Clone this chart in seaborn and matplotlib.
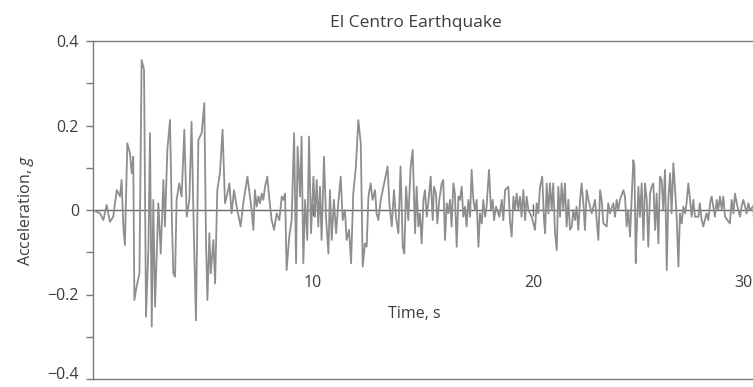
import numpy as np
import pandas as pd
import matplotlib
matplotlib.use("Agg")
import matplotlib.pyplot as plt
import seaborn as sns
from matplotlib.ticker import FixedLocator, FixedFormatter, NullLocator

# ---------------- data ----------------
title_text = "El Centro Earthquake"
x_label_text = "Time, s"
y_label_text = "Acceleration, $g$"

# 0 - 7 s (strong-motion phase)
time_a = [0.00, 0.32, 0.47, 0.62, 0.77, 0.92, 1.08, 1.23, 1.30, 1.38,
          1.45, 1.56, 1.68, 1.76, 1.83, 1.88, 1.98, 2.11, 2.21, 2.32,
          2.41, 2.52, 2.59, 2.67, 2.74, 2.82, 2.97, 3.08, 3.20, 3.27,
          3.38, 3.50, 3.58, 3.65, 3.73, 3.80, 3.92, 4.03, 4.15, 4.26,
          4.38, 4.48, 4.59, 4.68, 4.79, 4.94, 5.06, 5.14, 5.20, 5.29,
          5.35, 5.47, 5.55, 5.65, 5.77, 5.89, 6.00, 6.11, 6.20, 6.30,
          6.41, 6.53, 6.71, 6.83, 7.02]
accel_a = [0.000, -0.008, -0.024, 0.012, -0.028, -0.016, 0.047, 0.032, 0.071, -0.039,
           -0.083, 0.158, 0.134, 0.087, 0.126, -0.213, -0.182, -0.150, 0.355, 0.332,
           -0.253, -0.087, 0.182, -0.276, 0.024, -0.229, 0.016, -0.103, 0.071, -0.039,
           0.142, 0.213, -0.008, -0.150, -0.158, 0.024, 0.063, 0.032, 0.190, -0.016,
           0.024, 0.209, -0.071, -0.261, 0.166, 0.182, 0.253, -0.087, -0.213, -0.055,
           -0.150, -0.071, -0.174, 0.047, 0.087, 0.190, 0.016, 0.039, 0.063, -0.008,
           0.047, 0.008, -0.039, 0.016, 0.079]

# 7 - 14.5 s
time_b = [7.21, 7.29, 7.36, 7.44, 7.52, 7.59, 7.67, 7.74, 7.82, 7.92,
          8.02, 8.12, 8.23, 8.35, 8.47, 8.58, 8.65, 8.73, 8.80, 8.92,
          9.03, 9.14, 9.23, 9.30, 9.41, 9.48, 9.56, 9.64, 9.74, 9.82,
          9.91, 10.02, 10.09, 10.17, 10.24, 10.32, 10.39, 10.50, 10.59, 10.70,
          10.77, 10.85, 10.95, 11.05, 11.15, 11.26, 11.35, 11.45, 11.53, 11.64,
          11.73, 11.83, 11.95, 12.06, 12.17, 12.26, 12.36, 12.44, 12.52, 12.62,
          12.71, 12.82, 12.89, 12.97, 13.08, 13.20, 13.32, 13.39, 13.47, 13.58,
          13.68, 13.77, 13.88, 13.98, 14.08, 14.15, 14.23, 14.33, 14.44, 14.53]
accel_b = [0.000, -0.047, 0.047, 0.008, 0.032, 0.016, 0.039, 0.024, 0.055, 0.079,
           0.024, -0.024, -0.047, -0.008, -0.024, 0.032, 0.024, 0.039, -0.142, -0.063,
           -0.024, 0.182, -0.126, 0.150, 0.032, 0.174, -0.126, 0.024, -0.071, 0.174,
           -0.055, 0.079, -0.016, 0.071, -0.039, 0.055, -0.071, 0.126, -0.016, -0.103,
           0.047, -0.071, 0.024, -0.055, 0.016, 0.079, -0.024, 0.000, -0.071, -0.047,
           -0.126, 0.039, 0.103, 0.213, 0.158, -0.134, -0.079, -0.087, 0.032, 0.063,
           0.024, 0.047, -0.008, -0.024, 0.024, 0.055, 0.087, 0.103, 0.016, -0.039,
           0.047, -0.016, -0.055, 0.103, -0.087, -0.103, 0.055, -0.024, 0.103, 0.142]

# 14.5 - 21.7 s
time_c = [14.64, 14.71, 14.79, 14.86, 14.94, 15.02, 15.09, 15.17, 15.24, 15.35,
          15.44, 15.50, 15.59, 15.65, 15.74, 15.85, 15.92, 16.00, 16.08, 16.15,
          16.23, 16.30, 16.38, 16.45, 16.53, 16.61, 16.68, 16.76, 16.83, 16.91,
          16.98, 17.06, 17.14, 17.21, 17.29, 17.36, 17.44, 17.52, 17.59, 17.67,
          17.74, 17.82, 17.89, 18.00, 18.09, 18.17, 18.23, 18.32, 18.47, 18.58,
          18.65, 18.73, 18.88, 18.95, 19.03, 19.11, 19.18, 19.26, 19.33, 19.41,
          19.48, 19.56, 19.64, 19.71, 19.79, 19.94, 20.09, 20.17, 20.24, 20.32,
          20.42, 20.50, 20.55, 20.62, 20.70, 20.77, 20.85, 20.92, 21.00, 21.08,
          21.15, 21.23, 21.30, 21.38, 21.45, 21.53, 21.61, 21.68]
accel_c = [-0.055, 0.055, -0.039, -0.008, -0.079, 0.024, 0.047, -0.016, 0.016, 0.079,
           -0.024, 0.055, 0.039, -0.032, 0.024, 0.063, 0.071, -0.071, 0.016, -0.008,
           0.024, -0.039, 0.063, 0.039, -0.087, 0.032, 0.024, 0.055, -0.016, 0.008,
           -0.039, 0.024, -0.016, 0.095, 0.024, 0.000, 0.024, -0.087, -0.008, -0.032,
           0.024, -0.016, 0.008, 0.095, 0.000, 0.024, -0.024, 0.008, -0.016, 0.024,
           -0.024, 0.047, 0.055, -0.024, -0.063, 0.032, 0.000, 0.039, 0.000, 0.032,
           -0.016, 0.047, -0.024, 0.032, 0.000, -0.016, -0.047, 0.016, -0.008, 0.055,
           0.079, -0.024, -0.055, 0.063, -0.008, 0.063, 0.000, 0.063, -0.055, -0.095,
           0.055, -0.016, 0.063, 0.000, 0.063, -0.039, 0.024, -0.047]

# 21.7 - 30 s
time_d = [21.76, 21.83, 21.91, 21.98, 22.06, 22.14, 22.21, 22.29, 22.36, 22.44,
          22.52, 22.67, 22.82, 22.97, 23.05, 23.12, 23.20, 23.35, 23.42, 23.50,
          23.65, 23.73, 23.80, 23.88, 23.95, 24.11, 24.18, 24.26, 24.33, 24.41,
          24.56, 24.61, 24.67, 24.71, 24.79, 24.86, 24.94, 25.02, 25.09, 25.17,
          25.24, 25.32, 25.39, 25.47, 25.55, 25.62, 25.70, 25.77, 25.85, 25.92,
          26.00, 26.08, 26.15, 26.23, 26.30, 26.38, 26.45, 26.53, 26.61, 26.68,
          26.76, 26.83, 26.91, 26.98, 27.06, 27.14, 27.21, 27.29, 27.36, 27.52,
          27.58, 27.67, 27.74, 27.89, 27.97, 28.05, 28.12, 28.27, 28.35, 28.42,
          28.50, 28.58, 28.65, 28.73, 28.95, 29.03, 29.11, 29.18, 29.26, 29.33,
          29.41, 29.48, 29.56, 29.64, 29.71, 29.79, 29.86, 30.00]
accel_d = [-0.039, 0.000, -0.024, 0.008, -0.047, 0.024, 0.063, 0.016, -0.047, 0.047,
           0.024, -0.008, 0.024, -0.071, 0.047, 0.024, -0.032, -0.039, 0.016, -0.008,
           0.016, -0.016, 0.024, 0.000, 0.024, 0.047, 0.032, -0.039, 0.000, -0.063,
           0.118, 0.103, -0.126, -0.055, 0.055, -0.016, 0.063, -0.071, 0.063, 0.024,
           -0.087, 0.039, 0.055, 0.063, -0.047, 0.039, -0.079, 0.079, 0.071, 0.000,
           0.095, -0.142, 0.024, 0.087, -0.008, 0.111, 0.055, -0.016, -0.134, -0.008,
           -0.032, 0.008, -0.008, 0.016, 0.063, 0.024, -0.016, 0.024, -0.016, -0.016,
           0.016, -0.024, -0.039, -0.008, -0.024, 0.016, 0.032, -0.016, 0.024, 0.000,
           0.032, 0.000, 0.032, -0.016, -0.032, 0.024, -0.008, 0.039, 0.016, 0.000,
           -0.016, 0.008, 0.024, 0.008, -0.008, 0.016, 0.000, 0.008]

y_major_ticks = [-0.4, -0.2, 0.0, 0.2, 0.4]
y_major_labels = ["\u22120.4", "\u22120.2", "0", "0.2", "0.4"]
y_minor_ticks = [-0.3, -0.1, 0.1, 0.3]
x_ticks = [10, 20, 30]
x_tick_labels = ["10", "20", "30"]

# ---------------- figure ----------------
sns.set_theme(style="white")
plt.rcParams["font.family"] = ["Open Sans", "DejaVu Sans"]
plt.rcParams["mathtext.fontset"] = "custom"
plt.rcParams["mathtext.rm"] = "Open Sans"
plt.rcParams["mathtext.it"] = "Open Sans:italic"

text_color = "#3c3c3c"
frame_color = "#7a7a7a"

df = pd.DataFrame({
    "time": time_a + time_b + time_c + time_d,
    "accel": accel_a + accel_b + accel_c + accel_d,
})

fig = plt.figure(figsize=(7.53, 3.87), dpi=100)
# axes runs past the right edge of the picture, as in the cropped reference
ax = fig.add_axes([93 / 753, 1 - 379 / 387, (764 - 93) / 753, (379 - 41) / 387])

sns.lineplot(data=df, x="time", y="accel", ax=ax, color="#8e8e8e",
             linewidth=1.3, estimator=None, sort=False)

ax.set_xlim(0, 30.5)
ax.set_ylim(-0.4, 0.4)

ax.spines["right"].set_visible(False)
for s in ("left", "top", "bottom"):
    ax.spines[s].set_color(frame_color)
    ax.spines[s].set_linewidth(1.0)

ax.xaxis.set_major_locator(NullLocator())
ax.set_xlabel("")
ax.yaxis.set_major_locator(FixedLocator(y_major_ticks))
ax.yaxis.set_major_formatter(FixedFormatter(y_major_labels))
ax.yaxis.set_minor_locator(FixedLocator(y_minor_ticks))
ax.tick_params(axis="y", which="both", direction="out", length=5, width=1.0,
               color=frame_color, left=True, labelsize=11.5,
               labelcolor=text_color, pad=5)
ax.set_ylabel(y_label_text, fontsize=11.5, color=text_color, labelpad=8)

# time axis sitting on the zero line
sec = ax.secondary_xaxis(0.5 - 1e-6)
sec.set_xticks(x_ticks)
sec.set_xticklabels(x_tick_labels)
sec.spines["bottom"].set_color("#6a6a6a")
sec.spines["bottom"].set_linewidth(1.0)
sec.tick_params(axis="x", direction="inout", length=8, width=1.0,
                color="#6a6a6a", pad=43, labelsize=11.5, labelcolor=text_color)
fig.canvas.draw()
sec.get_xticklabels()[-1].set_horizontalalignment("right")
# keep the bottom y label inside the picture
ax.get_yticklabels()[0].set_verticalalignment("baseline")

ax.text(14.6, -0.246, x_label_text, ha="center", va="center",
        fontsize=11.5, color=text_color)

ax.set_title(title_text, x=(416 - 93) / (764 - 93), y=1.0, pad=10,
             fontsize=12.5, color=text_color)

fig.savefig("out.png", dpi=100)
